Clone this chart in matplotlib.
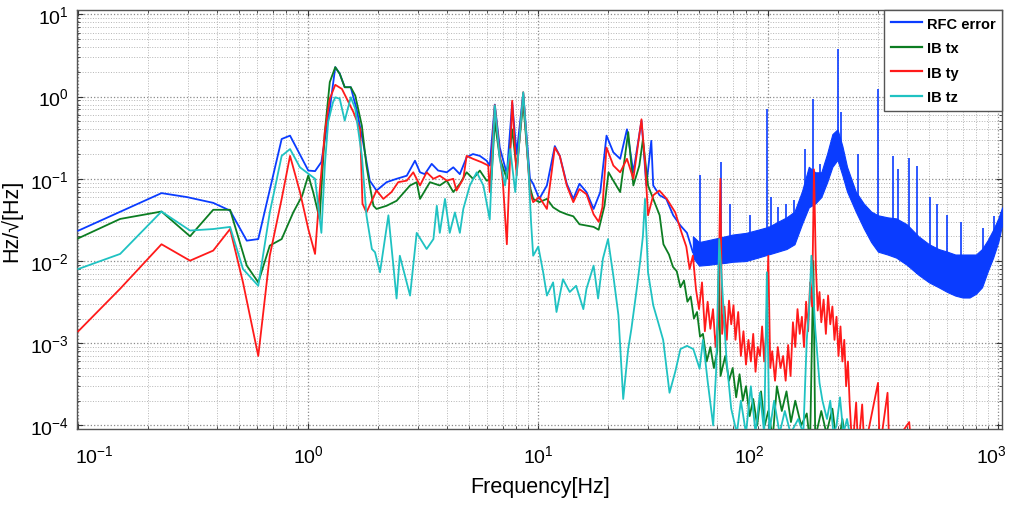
import numpy as np
import matplotlib
matplotlib.use("Agg")
import matplotlib.pyplot as plt
from matplotlib.ticker import LogLocator, NullFormatter, LogFormatterSciNotation
from matplotlib.transforms import ScaledTranslation

plt.rcParams['font.family'] = ['Liberation Sans', 'DejaVu Sans']
plt.rcParams['mathtext.fontset'] = 'custom'
plt.rcParams['mathtext.rm'] = 'Liberation Sans'
plt.rcParams['mathtext.default'] = 'regular'
plt.rcParams['axes.unicode_minus'] = False

# ---------------- data ----------------
series_names = ["RFC error", "IB tx", "IB ty", "IB tz"]

# RFC error, low/mid frequency part
rfc_f = [0.1, 0.23, 0.296, 0.386, 0.457, 0.54, 0.606, 0.766, 0.833, 1.0,
         1.07, 1.14, 1.18, 1.24, 1.31, 1.37, 1.44, 1.53, 1.62, 1.73,
         1.85, 1.98, 2.19, 2.42, 2.68, 2.91, 3.06, 3.21, 3.44, 3.67,
         4.0, 4.27, 4.56, 4.88, 5.2, 5.57, 5.96, 6.15, 6.47, 6.8,
         7.3, 7.7, 8.05, 8.6, 9.2, 9.5, 10.1, 10.9, 11.8, 12.4,
         13.3, 14.2, 15.1, 16.2, 17.4, 18.6, 19.8, 21.2, 22.7, 24.3,
         25.9, 28.1, 29.5, 31.0, 31.6, 33.7, 36.0, 38.6, 41.5, 44.3,
         47.0]
rfc_v = [0.0234, 0.067, 0.060, 0.051, 0.041, 0.0177, 0.0185, 0.305, 0.335, 0.126,
         0.124, 0.16, 0.30, 0.71, 2.28, 1.9, 1.3, 1.3, 0.71, 0.28,
         0.095, 0.072, 0.091, 0.10, 0.109, 0.166, 0.12, 0.114, 0.152, 0.126,
         0.12, 0.138, 0.114, 0.183, 0.20, 0.19, 0.166, 0.145, 0.80, 0.24,
         0.115, 0.85, 0.20, 1.1, 0.10, 0.087, 0.057, 0.083, 0.25, 0.19,
         0.087, 0.057, 0.087, 0.069, 0.043, 0.069, 0.335, 0.21, 0.175, 0.40,
         0.12, 0.51, 0.083, 0.29, 0.083, 0.063, 0.057, 0.036, 0.027, 0.022,
         0.0128]

# RFC error, high-frequency noise band (lower / upper envelope)
rfc_band_f = [47, 50, 55, 60, 65, 70, 80, 90, 100, 110,
              120, 130, 140, 150, 160, 170, 180, 190, 200, 210,
              220, 240, 260, 280, 300, 330, 360, 400, 450, 500,
              550, 600, 650, 700, 750, 800, 850, 900, 950, 1000,
              1040]
rfc_band_lo = [0.011, 0.0088, 0.009, 0.0093, 0.0095, 0.0098, 0.010, 0.011, 0.012, 0.013,
               0.014, 0.016, 0.028, 0.045, 0.05, 0.06, 0.09, 0.14, 0.17, 0.11,
               0.07, 0.04, 0.025, 0.017, 0.013, 0.012, 0.011, 0.009, 0.0068, 0.0055,
               0.0048, 0.0042, 0.0038, 0.0036, 0.0036, 0.004, 0.0048, 0.0075, 0.011, 0.017,
               0.028]
rfc_band_hi = [0.02, 0.017, 0.018, 0.019, 0.02, 0.021, 0.022, 0.024, 0.026, 0.03,
               0.034, 0.04, 0.07, 0.14, 0.12, 0.12, 0.2, 0.35, 0.4, 0.25,
               0.14, 0.07, 0.05, 0.04, 0.036, 0.034, 0.033, 0.028, 0.02, 0.016,
               0.014, 0.013, 0.012, 0.012, 0.012, 0.012, 0.014, 0.018, 0.024, 0.033,
               0.045]
# RFC error, narrow lines (frequency, top, base)
rfc_spike_f = [50.3, 62, 68, 83, 98.6, 103, 110, 120, 130, 145,
               157, 167, 201, 208, 245, 300, 349, 368, 410, 445,
               505, 540, 600, 690, 860, 960]
rfc_spike_top = [0.11, 0.16, 0.05, 0.036, 0.71, 0.06, 0.045, 0.05, 0.055, 0.23,
                 0.94, 0.15, 3.8, 0.65, 0.2, 1.24, 0.19, 0.13, 0.18, 0.145,
                 0.06, 0.05, 0.036, 0.03, 0.025, 0.035]
rfc_spike_base = [0.012, 0.012, 0.012, 0.012, 0.014, 0.014, 0.015, 0.016, 0.02, 0.05,
                  0.06, 0.07, 0.2, 0.15, 0.04, 0.015, 0.012, 0.011, 0.009, 0.007,
                  0.006, 0.005, 0.005, 0.004, 0.006, 0.012]

# IB tx
tx_f = [0.1, 0.152, 0.23, 0.306, 0.386, 0.457, 0.54, 0.606, 0.68, 0.766,
        0.86, 0.94, 1.0, 1.05, 1.12, 1.18, 1.24, 1.31, 1.37, 1.44,
        1.53, 1.6, 1.71, 1.79, 1.85, 1.92, 1.98, 2.19, 2.42, 2.77,
        2.96, 3.06, 3.38, 3.73, 4.0, 4.27, 4.56, 4.88, 5.2, 5.57,
        5.96, 6.26, 6.47, 6.8, 7.3, 7.7, 8.05, 8.6, 9.2, 9.5,
        10.1, 10.9, 11.6, 12.4, 13.3, 14.2, 15.1, 16.2, 17.4, 18.3,
        19.4, 20.2, 21.2, 22.7, 24.6, 25.9, 27.5, 28.5, 30.0, 31.6,
        33.7, 35, 37, 38.5, 40, 41.5, 43, 44.5, 46, 47.5,
        49, 50.5, 52, 54, 56, 58, 60, 61, 62, 65,
        67.5, 70, 72.5, 75, 77.5, 80, 83, 86, 89.5, 93,
        96.5, 100, 104.5, 109, 114.5, 120, 125.5, 131, 139, 147,
        152, 157, 160, 170, 179, 190, 200, 210, 220]
tx_v = [0.0189, 0.0325, 0.040, 0.020, 0.042, 0.042, 0.0088, 0.0055, 0.0154, 0.0185,
        0.039, 0.062, 0.11, 0.069, 0.0325, 0.37, 1.5, 2.28, 1.89, 1.30,
        1.30, 1.03, 0.44, 0.145, 0.083, 0.047, 0.043, 0.047, 0.054, 0.083,
        0.091, 0.057, 0.091, 0.083, 0.095, 0.069, 0.087, 0.12, 0.10, 0.126,
        0.095, 0.10, 0.5, 0.18, 0.10, 0.4, 0.13, 0.85, 0.08, 0.057,
        0.052, 0.057, 0.045, 0.040, 0.037, 0.035, 0.028, 0.027, 0.026, 0.024,
        0.047, 0.12, 0.095, 0.069, 0.37, 0.083, 0.145, 0.30, 0.083, 0.057,
        0.036, 0.016, 0.012, 0.0085, 0.0075, 0.0048, 0.0058, 0.0032, 0.0037, 0.002,
        0.0024, 0.0012, 0.0013, 0.0006, 0.0009, 0.0005, 0.0008, 0.01, 0.0004, 0.0007,
        0.00035, 0.0005, 0.00022, 0.00042, 0.0002, 0.0003, 0.00013, 0.00021, 0.0001, 0.00026,
        0.0001, 0.00015, 0.00007, 0.0003, 0.00015, 0.00026, 0.00011, 0.0002, 0.0001, 0.00014,
        0.00006, 0.01, 0.00007, 0.00015, 0.00008, 0.00016, 0.00005, 0.00012, 0.00005]

# IB ty (low/mid part, dense 44-232 Hz part, sparse tail)
ty_f_low = [0.1, 0.152, 0.23, 0.306, 0.386, 0.457, 0.52, 0.606, 0.68, 0.766,
            0.833, 0.92, 1.0, 1.07, 1.12, 1.18, 1.24, 1.31, 1.40, 1.47,
            1.57, 1.68, 1.72, 1.79, 1.98, 2.12, 2.3, 2.46, 2.68, 2.86,
            3.06, 3.27, 3.5, 3.73, 4.0, 4.27, 4.41, 4.72, 4.88, 5.2,
            5.67, 6.06, 6.15, 6.47, 6.8, 7.0, 7.3, 7.7, 8.05, 8.6,
            9.2, 9.5, 10.1, 10.9, 11.8, 12.4, 13.3, 14.2, 15.1, 16.2,
            17.4, 18.3, 19.0, 19.8, 21.2, 22.7, 24.3, 25.9, 28.1, 29.1,
            30.0, 31.6, 33.6, 36.2, 39.4, 42.0]
ty_v_low = [0.0014, 0.0046, 0.016, 0.0101, 0.0134, 0.0245, 0.0055, 0.0007, 0.0116, 0.057,
            0.19, 0.069, 0.0245, 0.0122, 0.069, 0.37, 0.94, 1.39, 1.24, 0.94,
            0.65, 0.40, 0.05, 0.039, 0.072, 0.057, 0.069, 0.091, 0.095, 0.12,
            0.083, 0.12, 0.10, 0.109, 0.095, 0.10, 0.072, 0.10, 0.19, 0.175,
            0.159, 0.145, 0.069, 0.79, 0.20, 0.10, 0.016, 0.89, 0.11, 1.13,
            0.069, 0.052, 0.06, 0.043, 0.24, 0.19, 0.083, 0.052, 0.075, 0.065,
            0.037, 0.03, 0.045, 0.24, 0.145, 0.12, 0.175, 0.10, 0.53, 0.16,
            0.036, 0.063, 0.072, 0.057, 0.039, 0.022]
ty_f_mid = [44, 45.5, 47, 48.5, 50, 51.5, 53, 54.5, 56, 57.5,
            59, 60.5, 61.9, 63, 64.5, 66, 67.5, 69, 70.6, 72,
            74, 76, 78, 80, 82, 84, 86, 88, 90, 92,
            94, 96, 98, 100, 102, 104, 107, 110, 113, 116,
            119, 122, 125, 128, 131, 134, 137, 140, 143, 146,
            149, 152, 155, 158, 161, 164, 167, 170, 174, 178,
            182, 186, 190, 194, 198, 202, 206, 210, 214, 218,
            222, 226, 232]
ty_v_mid = [0.015, 0.008, 0.0116, 0.0045, 0.0026, 0.0055, 0.0014, 0.0032, 0.0015, 0.0026,
            0.0009, 0.0018, 0.10, 0.0013, 0.0028, 0.0011, 0.0033, 0.0017, 0.0029, 0.0011,
            0.0024, 0.0007, 0.0014, 0.00055, 0.0011, 0.0006, 0.0013, 0.00045, 0.0009, 0.0007,
            0.0016, 0.0006, 0.0014, 0.0116, 0.0005, 0.0008, 0.00035, 0.0009, 0.0005, 0.0007,
            0.00035, 0.00095, 0.0004, 0.0018, 0.0009, 0.0026, 0.0013, 0.0021, 0.0009, 0.0032,
            0.0014, 0.0055, 0.0028, 0.13, 0.0088, 0.0025, 0.0042, 0.0018, 0.0034, 0.0013,
            0.0038, 0.0017, 0.0028, 0.0011, 0.0021, 0.0007, 0.0016, 0.0006, 0.0011, 0.0003,
            0.0006, 0.00018, 0.00005]
ty_f_tail = [241, 246, 256, 262, 300, 305, 330, 336, 410, 420]
ty_v_tail = [0.00019, 0.00005, 0.00018, 0.00005, 0.00033, 0.00005, 0.00025, 0.00005, 0.00011, 0.00005]

# IB tz
tz_f = [0.1, 0.152, 0.23, 0.306, 0.386, 0.457, 0.52, 0.606, 0.68, 0.766,
        0.833, 0.92, 1.07, 1.14, 1.18, 1.22, 1.28, 1.31, 1.37, 1.44,
        1.53, 1.6, 1.71, 1.79, 1.89, 1.95, 2.05, 2.23, 2.42, 2.5,
        2.77, 2.96, 3.27, 3.5, 3.62, 3.73, 3.93, 4.12, 4.34, 4.56,
        4.72, 5.04, 5.4, 5.77, 6.15, 6.47, 6.8, 7.17, 7.55, 7.94,
        8.6, 9.05, 9.3, 9.5, 10.0, 10.5, 10.9, 11.6, 12.0, 12.8,
        13.7, 14.6, 15.7, 16.2, 17.4, 18.2, 19.1, 20.1, 21.2, 22.3,
        23.4, 24.6, 25.4, 26.8, 27.7, 28.5, 29.1, 29.6, 30.0, 31.6,
        33.2, 34.9, 37.2, 39.4, 41.5, 44.3, 47.2, 50.3, 52, 54.6,
        57.6, 59.3, 61.2, 62.5, 65.8, 69, 73, 76, 80, 84,
        88, 92, 96, 98.6, 101, 106, 112, 118, 125, 135,
        142, 147, 151, 154, 157, 160, 167, 172, 180, 186,
        192, 198, 205, 212, 220, 230]
tz_v = [0.008, 0.0122, 0.040, 0.0235, 0.0245, 0.026, 0.008, 0.005, 0.039, 0.19,
        0.23, 0.138, 0.10, 0.022, 0.145, 0.49, 0.85, 0.98, 0.94, 0.51,
        0.98, 0.71, 0.19, 0.036, 0.014, 0.0128, 0.0073, 0.036, 0.0035, 0.0116,
        0.0038, 0.022, 0.014, 0.0185, 0.047, 0.022, 0.057, 0.022, 0.039, 0.022,
        0.043, 0.083, 0.12, 0.083, 0.032, 0.78, 0.175, 0.083, 0.23, 0.069,
        1.13, 0.145, 0.03, 0.0116, 0.015, 0.0073, 0.0038, 0.0055, 0.0024, 0.006,
        0.0042, 0.005, 0.0026, 0.0046, 0.0088, 0.0035, 0.0107, 0.0185, 0.0066, 0.0022,
        0.00021, 0.00085, 0.0015, 0.0046, 0.0097, 0.02, 0.057, 0.0185, 0.0073, 0.0029,
        0.0018, 0.0011, 0.00025, 0.00045, 0.00085, 0.00093, 0.00085, 0.00049, 0.0011, 0.00033,
        0.0001, 0.00045, 0.0185, 0.0073, 0.00064, 0.00016, 0.00008, 0.0002, 0.00008, 0.0003,
        0.00008, 0.00025, 0.00008, 0.0073, 0.00008, 0.0002, 0.00008, 0.00015, 0.00008, 0.00012,
        0.00008, 0.0011, 0.003, 0.0116, 0.004, 0.0015, 0.00033, 0.0002, 0.00012, 0.0002,
        0.00008, 0.0001, 0.00022, 0.00008, 0.00012, 0.00006]

colors = ["#0a3cff", "#0c7d22", "#ff1a1a", "#1fc2c2"]
x_ticks = [1e-1, 1e0, 1e1, 1e2, 1e3]
x_tick_labels = [r'$10^{-1}$', r'$10^{0}$', r'$10^{1}$', r'$10^{2}$', r'$10^{3}$']
y_ticks = [1e-4, 1e-3, 1e-2, 1e-1, 1e0, 1e1]

# ---------------- figure ----------------
W, H = 1011, 506
fig = plt.figure(figsize=(W / 100, H / 100), dpi=100)
ax = fig.add_axes([77.3 / W, 1 - 430 / H, (1002 - 77.3) / W, (430 - 11) / H])
ax.set_xscale('log')
ax.set_yscale('log')

lw = 1.3
l1, = ax.plot(rfc_f, rfc_v, color=colors[0], lw=lw, zorder=3)
ax.fill_between(rfc_band_f, rfc_band_lo, rfc_band_hi, color=colors[0], lw=0.8, zorder=3)
ax.vlines(rfc_spike_f, rfc_spike_base, rfc_spike_top, color=colors[0], lw=1.2, zorder=3)
l2, = ax.plot(tx_f, tx_v, color=colors[1], lw=lw, zorder=4)
l3, = ax.plot(ty_f_low + ty_f_mid + ty_f_tail, ty_v_low + ty_v_mid + ty_v_tail,
              color=colors[2], lw=lw, zorder=5)
l4, = ax.plot(tz_f, tz_v, color=colors[3], lw=lw, zorder=6)

ax.set_xlim(0.099, 1038)
ax.set_ylim(9.06e-5, 11.3)

ax.xaxis.set_minor_locator(LogLocator(base=10, subs=np.arange(2, 10), numticks=50))
ax.yaxis.set_minor_locator(LogLocator(base=10, subs=np.arange(2, 10), numticks=50))
ax.xaxis.set_minor_formatter(NullFormatter())
ax.yaxis.set_minor_formatter(NullFormatter())
ax.set_xticks(x_ticks)
ax.set_yticks(y_ticks)
ax.yaxis.set_major_formatter(LogFormatterSciNotation())
ax.set_xticklabels([])

ax.grid(True, which='major', color='#8a8a8a', ls=':', lw=0.9)
ax.grid(True, which='minor', color='#b5b5b5', ls=':', lw=0.7)
ax.set_axisbelow(True)

ax.tick_params(axis='both', which='major', direction='in', length=4, width=0.8,
               labelsize=14, top=True, right=True, colors='#333333',
               labelcolor='black')
ax.tick_params(axis='y', which='major', pad=6)
ax.tick_params(axis='both', which='minor', direction='in', length=2, width=0.6,
               top=True, right=True, colors='#333333')
for s in ax.spines.values():
    s.set_color('#555555')
    s.set_linewidth(1.0)

# x tick labels placed where the reference shows them
x_label_shift_px = [16, 0, 0, -19, -7]
for t, lab, dx in zip(x_ticks, x_tick_labels, x_label_shift_px):
    tr = ax.get_xaxis_transform() + ScaledTranslation(dx / 100, 0, fig.dpi_scale_trans)
    ax.text(t, -0.063, lab, transform=tr, ha='center', va='center', fontsize=14,
            clip_on=False)

ax.set_xlabel('Frequency[Hz]', fontsize=15.5)
ax.xaxis.set_label_coords(0.5, -0.112)
ax.set_ylabel('Hz/\u221a[Hz]', fontsize=15.5)
ax.yaxis.set_label_coords(-0.06, 0.5)

leg = ax.legend([l1, l2, l3, l4], series_names, loc='upper right',
                borderaxespad=0, fancybox=False, frameon=True,
                prop={'weight': 'bold', 'size': 10.5},
                handlelength=2.1, handletextpad=0.35, labelspacing=0.72,
                borderpad=0.45)
leg.get_frame().set_edgecolor('#555555')
leg.get_frame().set_linewidth(1.0)
leg.get_frame().set_alpha(1.0)
leg.set_zorder(10)
for h in leg.get_lines():
    h.set_linewidth(1.6)

fig.savefig('out.png', dpi=100)
